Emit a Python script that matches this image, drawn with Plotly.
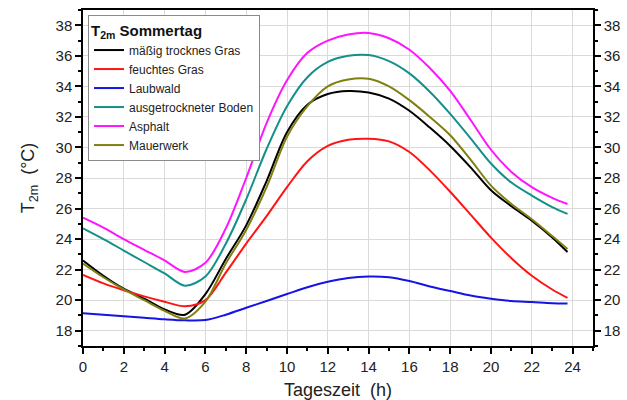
import plotly.graph_objects as go

hours = [0, 1, 2, 3, 4, 5, 6, 7, 8, 9, 10, 11, 12, 13, 14, 15, 16, 17, 18, 19, 20, 21, 22, 23, 23.75]

gras_trocken = [22.6, 21.6, 20.75, 20.1, 19.4, 19.05, 20.4, 22.7, 24.9, 27.8, 31.0, 32.8, 33.5, 33.7, 33.6,
                33.2, 32.4, 31.3, 30.1, 28.7, 27.2, 26.15, 25.2, 24.1, 23.15]
gras_feucht = [21.65, 21.1, 20.65, 20.25, 19.9, 19.6, 20.0, 21.8, 23.7, 25.5, 27.4, 29.1, 30.1, 30.5, 30.57,
               30.4, 29.7, 28.5, 27.1, 25.6, 24.1, 22.75, 21.6, 20.7, 20.15]
laubwald = [19.15, 19.05, 18.95, 18.85, 18.75, 18.68, 18.7, 19.05, 19.5, 19.95, 20.4, 20.85, 21.2, 21.45, 21.55,
            21.5, 21.25, 20.9, 20.6, 20.3, 20.1, 19.95, 19.88, 19.8, 19.78]
boden = [24.7, 24.0, 23.25, 22.5, 21.75, 20.95, 21.55, 23.7, 26.6, 29.9, 32.7, 34.6, 35.6, 36.0, 36.05,
         35.65, 34.85, 33.65, 32.2, 30.6, 28.95, 27.7, 26.85, 26.1, 25.65]
asphalt = [25.4, 24.75, 24.0, 23.3, 22.6, 21.85, 22.45, 24.7, 28.0, 31.6, 34.4, 36.2, 37.0, 37.4, 37.5,
           37.15, 36.4, 35.2, 33.7, 31.8, 29.85, 28.4, 27.4, 26.7, 26.3]
mauerwerk = [22.4, 21.5, 20.7, 20.0, 19.3, 18.8, 19.9, 22.4, 24.6, 27.4, 30.7, 32.7, 34.0, 34.45, 34.5,
             34.0, 33.1, 32.0, 30.8, 29.2, 27.5, 26.3, 25.3, 24.2, 23.35]

series_names = ["mäßig trocknes Gras", "feuchtes Gras", "Laubwald", "ausgetrockneter Boden", "Asphalt", "Mauerwerk"]
series_values = [gras_trocken, gras_feucht, laubwald, boden, asphalt, mauerwerk]
series_colors = ["#000000", "#ff1414", "#1414e6", "#14908a", "#ff14ff", "#808012"]

x_ticks = [0, 2, 4, 6, 8, 10, 12, 14, 16, 18, 20, 22, 24]
y_ticks = [18, 20, 22, 24, 26, 28, 30, 32, 34, 36, 38]

FONT = "Liberation Sans, Arial, sans-serif"

fig = go.Figure()
for name, vals, col in zip(series_names, series_values, series_colors):
    fig.add_trace(go.Scatter(x=hours, y=vals, name=name, mode="lines",
                             line=dict(color=col, width=2, shape="spline", smoothing=0.9)))

# invisible trace so the right-hand axis is drawn
fig.add_trace(go.Scatter(x=hours, y=laubwald, yaxis="y2", mode="lines", opacity=0,
                         showlegend=False, hoverinfo="skip", line=dict(width=0)))

axis_common = dict(showline=True, linecolor="black", linewidth=1.5, ticks="outside",
                   ticklen=6, tickwidth=1.5, tickcolor="black", automargin=False,
                   tickfont=dict(family=FONT, size=15, color="#222"), zeroline=False)

fig.update_layout(
    width=627, height=400,
    margin=dict(l=83, r=34, t=10, b=54),
    paper_bgcolor="white", plot_bgcolor="white",
    showlegend=True,
    legend=dict(x=0.0098, y=0.985, xanchor="left", yanchor="top",
                bgcolor="white", bordercolor="#8a8a8a", borderwidth=1,
                font=dict(family=FONT, size=12, color="#222"),
                title=dict(text="<b>T<sub>2m</sub> Sommertag</b>",
                           font=dict(family=FONT, size=15, color="#111")),
                tracegroupgap=0, itemwidth=30),
    xaxis=dict(range=[0, 25], tickvals=x_ticks, mirror=True,
               showgrid=True, gridcolor="#dadada", gridwidth=1,
               minor=dict(dtick=1, tick0=0, ticks="outside", ticklen=3, tickwidth=1.5,
                          tickcolor="black", showgrid=False),
               title=dict(text="Tageszeit  (h)", font=dict(family=FONT, size=18, color="#222"),
                          standoff=12),
               **axis_common),
    yaxis=dict(range=[17, 39], tickvals=y_ticks, mirror=True,
               showgrid=True, gridcolor="#dadada", gridwidth=1,
               minor=dict(dtick=1, tick0=17, ticks="outside", ticklen=3, tickwidth=1.5,
                          tickcolor="black", showgrid=False),
               title=dict(text="T<sub>2m</sub>  (°C)", font=dict(family=FONT, size=18, color="#222"),
                          standoff=16),
               **axis_common),
    yaxis2=dict(range=[17, 39], tickvals=y_ticks, overlaying="y", side="right", anchor="x",
                showgrid=False,
                minor=dict(dtick=1, tick0=17, ticks="outside", ticklen=3, tickwidth=1.5,
                           tickcolor="black", showgrid=False),
                **axis_common),
)

fig.write_html("out.html")
